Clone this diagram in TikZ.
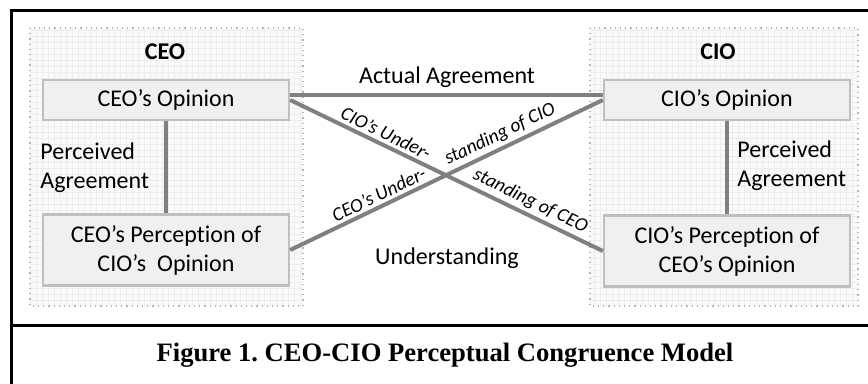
\documentclass[tikz,border=0pt]{standalone}
\usepackage{fontspec}
\setmainfont{Carlito}[Ligatures={TeX,NoCommon}]
\newfontfamily\captionfont{Liberation Serif}
\usetikzlibrary{patterns}
\frenchspacing
\tikzset{
  opinion/.style={draw=black!25, line width=1.2pt, fill=black!6, minimum width=123pt, align=center, inner sep=0pt},
  link/.style={draw=black!50, line width=2pt},
  lbl/.style={font=\fontsize{9.7}{11}\selectfont\itshape, sloped, above, inner sep=1.5pt},
  panelfill/.style={fill=black!2},
  panelgrid/.style={pattern=grid, pattern color=black!7},
  paneledge/.style={draw=blue!40!black!30, dotted, line width=0.6pt}
}
\begin{document}
\begin{tikzpicture}[x=0.5pt, y=-0.5pt, font=\fontsize{12}{14.5}\selectfont]
  \useasboundingbox (0,0) rectangle (868,384);
  % frame
  \draw[line width=1.5pt] (11,384) -- (11,11) -- (868,11) (11,326) -- (868,326);
  % panels
  \fill[panelfill] (30,28) rectangle (303,306) (590,28) rectangle (858,306);
  \fill[panelgrid] (30,28) rectangle (303,306) (590,28) rectangle (858,306);
  \draw[paneledge] (30,28) rectangle (303,306) (590,28) rectangle (858,306);
  \draw
    (165,52) node[font=\fontsize{12}{14.5}\selectfont\bfseries] (ceo){CEO}
    (718,52) node[font=\fontsize{12}{14.5}\selectfont\bfseries] (cio){CIO}
    (166,100) node[opinion, minimum height=20pt] (ceoop){CEO’s Opinion}
    (166,250) node[opinion, minimum height=35.5pt] (ceoper){CEO’s Perception of\\CIO’s\ \ Opinion}
    (727,100) node[opinion, minimum height=20pt] (cioop){CIO’s Opinion}
    (727,251) node[opinion, minimum height=35.5pt] (cioper){CIO’s Perception of\\CEO’s Opinion}
    (40,168) node[anchor=west, align=left, inner sep=0pt] (ceoagr){Perceived\\Agreement}
    (737,166) node[anchor=west, align=left, inner sep=0pt] (cioagr){Perceived\\Agreement}
    (447,77) node (actual){Actual Agreement}
    (447,258) node (under){Understanding}
    (445,355) node (caption){\captionfont\bfseries\fontsize{13.3}{16}\selectfont Figure 1. CEO-CIO Perceptual Congruence Model};
  \begin{scope}[link]
    \draw (ceoop) to (ceoper);
    \draw (cioop) to (cioper);
    \draw ([yshift=2.5pt]ceoop.east) to ([yshift=2.5pt]cioop.west);
    \draw (ceoop.east) to node[lbl, pos=0.29]{CIO’s Under-} node[lbl, pos=0.75]{standing of CEO} (cioper.west);
    \draw (ceoper.east) to node[lbl, pos=0.30]{CEO’s Under-} node[lbl, pos=0.69]{standing of CIO} (cioop.west);
  \end{scope}
\end{tikzpicture}
\end{document}
